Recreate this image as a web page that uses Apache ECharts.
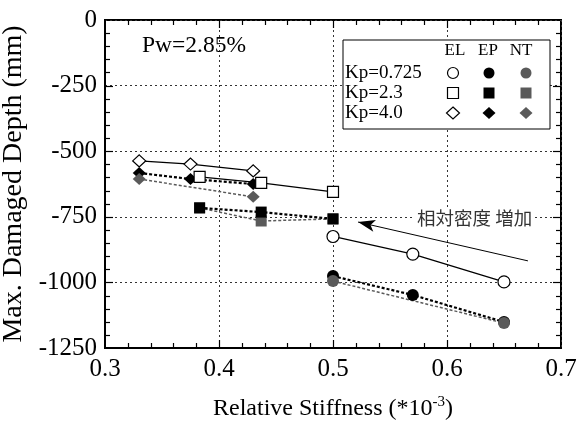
<!DOCTYPE html>
<html><head><meta charset="utf-8">
<script src="https://cdn.jsdelivr.net/npm/echarts@6/dist/echarts.min.js"></script>
<style>html,body{margin:0;padding:0;background:#fff}#c{width:584px;height:430px}</style>
</head><body><div id="c"></div>
<script>
// ---- data ----
const xTicks = [0.3, 0.4, 0.5, 0.6, 0.7];
const yTicks = [0, -250, -500, -750, -1000, -1250];

const x725 = [0.5, 0.57, 0.65];
const elKp725 = [-825, -892, -998];
const epKp725 = [-976, -1048, -1151];
const xNT725 = [0.5, 0.65];
const ntKp725 = [-995, -1155];

const x23 = [0.383, 0.437, 0.5];
const elKp23 = [-598, -621, -655];
const epKp23 = [-716, -732, -758];
const ntKp23 = [-716, -766, -758];

const x40 = [0.33, 0.375, 0.43];
const elKp40 = [-537, -549, -575];
const epKp40 = [-583, -606, -625];
const xNT40 = [0.33, 0.43];
const ntKp40 = [-606, -674];

const legendRows = ['Kp=0.725', 'Kp=2.3', 'Kp=4.0'];
const legendCols = ['EL', 'EP', 'NT'];
const pwLabel = 'Pw=2.85%';
const arrowText = '相対密度 増加';
const arrowFrom = [0.671, -918];
const arrowTo = [0.522, -770];

// ---- styles ----
const SERIF = 'Liberation Serif';
const GRAY = '#5a5a5a';
const pair = (xs, ys) => xs.map((x, i) => [x, ys[i]]);

function series(name, xs, ys, kind, symbol, size) {
  const isEL = kind === 'EL', isEP = kind === 'EP';
  return {
    name, type: 'line', data: pair(xs, ys),
    symbol, symbolSize: size, showSymbol: true,
    lineStyle: isEL ? {color: '#000', width: 1.3, type: 'solid'}
      : isEP ? {color: '#000', width: 2.2, type: [3, 2]}
      : {color: GRAY, width: 1.5, type: [3, 2]},
    itemStyle: isEL ? {color: '#fff', borderColor: '#000', borderWidth: 1.2}
      : isEP ? {color: '#000', borderColor: '#000', borderWidth: 0}
      : {color: GRAY, borderColor: GRAY, borderWidth: 0},
    emphasis: {disabled: true},
    z: 3
  };
}

const DIA = [13, 12];
const seriesList = [
  series('EL 4.0', x40, elKp40, 'EL', 'diamond', DIA),
  series('EP 4.0', x40, epKp40, 'EP', 'diamond', DIA),
  series('NT 4.0', xNT40, ntKp40, 'NT', 'diamond', DIA),
  series('NT 2.3', x23, ntKp23, 'NT', 'rect', 11),
  series('EL 2.3', x23, elKp23, 'EL', 'rect', 11),
  series('EP 2.3', x23, epKp23, 'EP', 'rect', 11),
  series('EL 0.725', x725, elKp725, 'EL', 'circle', 12),
  series('EP 0.725', x725, epKp725, 'EP', 'circle', 12),
  series('NT 0.725', xNT725, ntKp725, 'NT', 'circle', 12)
];
// arrow annotation
seriesList[6].markLine = {
  silent: true, animation: false,
  symbol: ['none', 'arrow'], symbolSize: [9, 17],
  label: {show: false},
  lineStyle: {color: '#000', width: 1, type: 'solid'},
  data: [[{coord: arrowFrom}, {coord: arrowTo}]]
};

function axisBase() {
  return {
    axisLine: {show: true, onZero: false, lineStyle: {color: '#000', width: 2}},
    axisTick: {show: false},
    minorTick: {show: false}
  };
}

const chart = echarts.init(document.getElementById('c'), null, {renderer: 'canvas'});

// legend + annotation graphics
const lg = [];
lg.push({type: 'rect', shape: {x: 343, y: 40, width: 207, height: 89}, style: {fill: '#fff', stroke: '#000', lineWidth: 1}, z: 10});
const colX = [455, 488, 521];
legendCols.forEach((t, i) => lg.push({type: 'text', x: colX[i], y: 51, style: {text: t, font: '17px ' + SERIF, fill: '#000', align: 'center', verticalAlign: 'middle'}, z: 11}));
const rowY = [73, 93, 113];
legendRows.forEach((t, i) => lg.push({type: 'text', x: 345, y: rowY[i], style: {text: t, font: '19px ' + SERIF, fill: '#000', align: 'left', verticalAlign: 'middle'}, z: 11}));
const symX = [453, 489, 526];
const fills = ['#fff', '#000', GRAY];
const strokes = ['#000', '#000', GRAY];
for (let c = 0; c < 3; c++) {
  const cx = symX[c];
  lg.push({type: 'circle', shape: {cx, cy: rowY[0], r: 5.5}, style: {fill: fills[c], stroke: strokes[c], lineWidth: c === 0 ? 1.2 : 0}, z: 11});
  lg.push({type: 'rect', shape: {x: cx - 5.5, y: rowY[1] - 5.5, width: 11, height: 11}, style: {fill: fills[c], stroke: strokes[c], lineWidth: c === 0 ? 1.2 : 0}, z: 11});
  lg.push({type: 'polygon', shape: {points: [[cx, rowY[2] - 6], [cx + 6.5, rowY[2]], [cx, rowY[2] + 6], [cx - 6.5, rowY[2]]]}, style: {fill: fills[c], stroke: strokes[c], lineWidth: c === 0 ? 1.2 : 0}, z: 11});
}
lg.push({type: 'text', x: 142, y: 46, style: {text: pwLabel, font: '23.5px ' + SERIF, fill: '#000', align: 'left', verticalAlign: 'middle'}, z: 11});
lg.push({type: 'text', x: 415, y: 218, style: {text: arrowText, font: '18.5px "Noto Sans CJK JP"', fill: '#333', align: 'left', verticalAlign: 'middle', backgroundColor: '#fff', padding: [0, 2]}, z: 11});

const GRID = {left: 105, right: 23, top: 20, bottom: 82};
const option = {
  animation: false,
  backgroundColor: '#fff',
  grid: Object.assign({outerBoundsMode: 'none', show: true, borderColor: '#000', borderWidth: 2, backgroundColor: 'transparent'}, GRID),
  xAxis: [
    Object.assign(axisBase(), {
      type: 'value', min: 0.3, max: 0.7, interval: 0.1, position: 'bottom',
      name: 'Relative Stiffness (*10{sup|-3})', nameLocation: 'middle', nameGap: 47,
      nameTextStyle: {fontFamily: SERIF, fontSize: 24, color: '#000',
        rich: {sup: {fontFamily: SERIF, fontSize: 15, color: '#000', verticalAlign: 'top', padding: [0, 0, 12, 0]}}},
      axisLabel: {fontFamily: SERIF, fontSize: 25, color: '#000', margin: 9,
        formatter: v => xTicks.reduce((a, t) => Math.abs(t - v) < 1e-6 ? String(t) : a, '')},
      splitLine: {show: true, lineStyle: {color: '#333', width: 1, type: [2, 3]}}
    })
  ],
  yAxis: [
    Object.assign(axisBase(), {
      type: 'value', min: -1250, max: 0, interval: 250, position: 'left',
      name: 'Max. Damaged Depth (mm)', nameLocation: 'middle', nameGap: 57,
      nameTextStyle: {fontFamily: SERIF, fontSize: 28, color: '#000'},
      axisLabel: {fontFamily: SERIF, fontSize: 25, color: '#000', margin: 8,
        formatter: v => yTicks.reduce((a, t) => Math.abs(t - v) < 1e-6 ? String(t) : a, '')},
      splitLine: {show: true, lineStyle: {color: '#333', width: 1, type: [2, 3]}}
    })
  ],
  graphic: lg,
  series: seriesList
};
chart.setOption(option);

// inward major/minor ticks on all four sides, placed through the grid's scales
const xMin = xTicks[0], xMax = xTicks[xTicks.length - 1];
const yMin = yTicks[yTicks.length - 1], yMax = yTicks[0];
function toPx(x, y) {
  let p = null;
  try { p = chart.convertToPixel({gridIndex: 0}, [x, y]); } catch (e) { p = null; }
  if (!p || !isFinite(p[0]) || !isFinite(p[1])) {
    const W = 584 - GRID.left - GRID.right, H = 430 - GRID.top - GRID.bottom;
    p = [GRID.left + (x - xMin) / (xMax - xMin) * W, GRID.top + (yMax - y) / (yMax - yMin) * H];
  }
  return p;
}
const corner0 = toPx(xMin, yMin), corner1 = toPx(xMax, yMax);
const pxL = corner0[0], pyB = corner0[1], pxR = corner1[0], pyT = corner1[1];
const tickGraphics = [];
const tl = (x1, y1, x2, y2) => tickGraphics.push({type: 'polyline', silent: true, z: 50, zlevel: 0,
  shape: {points: [[x1, y1], [x2, y2]]}, style: {stroke: '#000', lineWidth: 1.2, fill: null}});
for (let i = 1; i < 20; i++) {
  const v = xMin + i * (xMax - xMin) / 20;
  const len = i % 5 === 0 ? 8 : 5;
  const px = Math.round(toPx(v, yMin)[0]) + 0.5;
  tl(px, pyB, px, pyB - len);
  tl(px, pyT, px, pyT + len);
}
for (let i = 1; i < 25; i++) {
  const v = yMin + i * (yMax - yMin) / 25;
  const len = i % 5 === 0 ? 8 : 5;
  const py = Math.round(toPx(xMin, v)[1]) + 0.5;
  tl(pxL, py, pxL + len, py);
  tl(pxR, py, pxR - len, py);
}
option.graphic = lg.concat(tickGraphics);
chart.setOption(option, true);
</script></body></html>
